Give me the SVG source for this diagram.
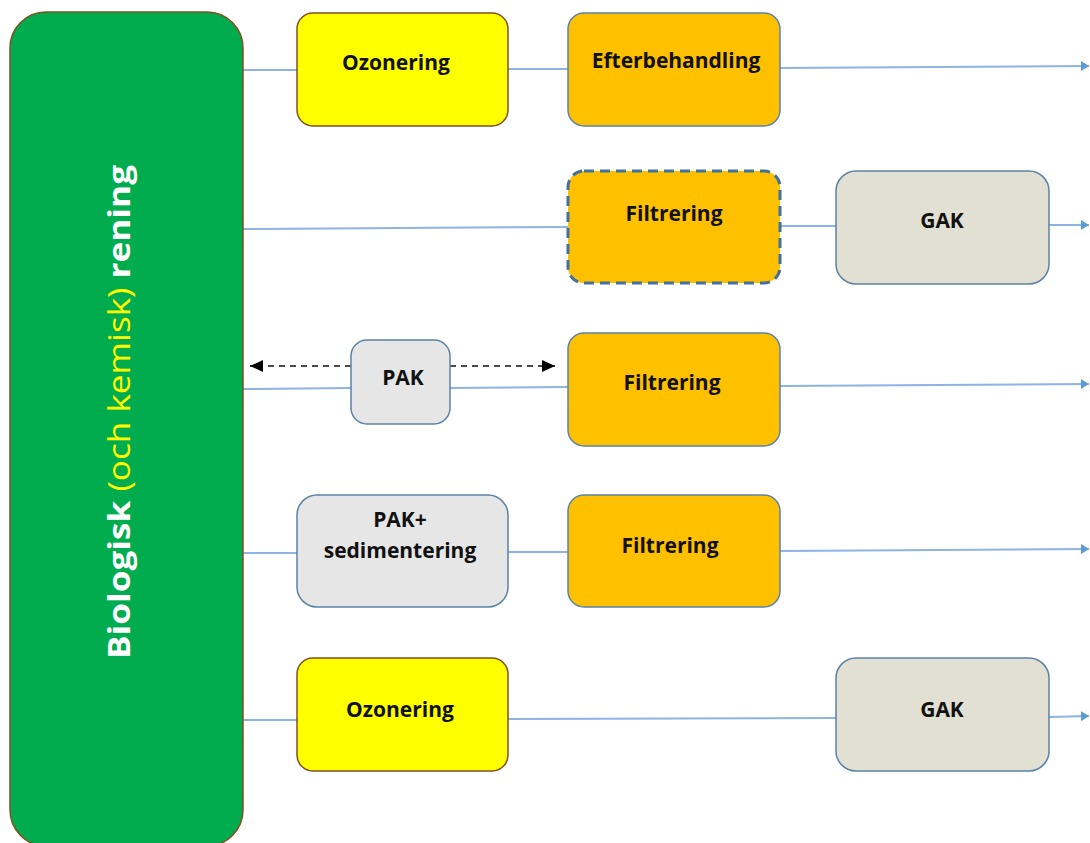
<svg xmlns="http://www.w3.org/2000/svg" width="1090" height="843" viewBox="0 0 1090 843">
<defs>
<style>
.lbl{font-family:"Open Sans",Lato,"Liberation Sans",sans-serif;font-weight:bold;font-size:21px;fill:#111;text-anchor:middle}
.ln{stroke:#8DB4E2;stroke-width:2;fill:none}
.orange{fill:#FFC000;stroke:#5A82A8;stroke-width:1.5}
.yellow{fill:#FFFF00;stroke:#7F5020;stroke-width:1.5}
.grey{fill:#E6E6E6;stroke:#5A82A8;stroke-width:1.5}
.beige{fill:#E2DFD3;stroke:#5A82A8;stroke-width:1.5}
.dash{stroke:#111;stroke-width:1.5;stroke-dasharray:6 5;fill:none}
</style>
<marker id="ah" markerWidth="8" markerHeight="10" refX="8" refY="5" orient="auto" markerUnits="userSpaceOnUse">
<path d="M0,0 L8,5 L0,10 Z" fill="#5B9BD5"/>
</marker>
<marker id="bh" markerWidth="13" markerHeight="12" refX="13" refY="6" orient="auto-start-reverse" markerUnits="userSpaceOnUse">
<path d="M0,0 L13,6 L0,12 Z" fill="#000"/>
</marker>
</defs>
<rect width="1090" height="843" fill="#fff"/>
<g id="connectors">
<line class="ln" x1="243" y1="70" x2="297" y2="70"/>
<line class="ln" x1="508" y1="69" x2="568" y2="69"/>
<line class="ln" x1="780" y1="68" x2="1089" y2="66" marker-end="url(#ah)"/>
<line class="ln" x1="243" y1="229" x2="568" y2="227"/>
<line class="ln" x1="780" y1="226" x2="836" y2="226"/>
<line class="ln" x1="1049" y1="225" x2="1089" y2="225" marker-end="url(#ah)"/>
<line class="ln" x1="243" y1="389" x2="351" y2="388"/>
<line class="ln" x1="450" y1="388" x2="568" y2="387"/>
<line class="ln" x1="780" y1="386" x2="1089" y2="384" marker-end="url(#ah)"/>
<line class="ln" x1="243" y1="553" x2="297" y2="553"/>
<line class="ln" x1="508" y1="552" x2="568" y2="552"/>
<line class="ln" x1="780" y1="551" x2="1089" y2="549" marker-end="url(#ah)"/>
<line class="ln" x1="243" y1="720" x2="297" y2="720"/>
<line class="ln" x1="508" y1="719" x2="836" y2="718"/>
<line class="ln" x1="1049" y1="717" x2="1089" y2="716" marker-end="url(#ah)"/>
<line class="dash" x1="351" y1="366" x2="250" y2="366" marker-end="url(#bh)"/>
<line class="dash" x1="450" y1="366" x2="555" y2="366" marker-end="url(#bh)"/>
</g>
<g id="bio">
<rect x="10" y="12" width="233" height="834" rx="36" fill="#00AC4E" stroke="#7F5020" stroke-width="1.5"/>
<text transform="translate(130,412) rotate(-90)" text-anchor="middle" font-family="'Open Sans',Lato,'Liberation Sans',sans-serif" font-size="31" fill="#fff" textLength="494" lengthAdjust="spacingAndGlyphs"><tspan font-weight="bold">Biologisk </tspan><tspan fill="#FFFF00">(och kemisk)</tspan><tspan font-weight="bold"> rening</tspan></text>
</g>
<g id="ozon1"><rect class="yellow" x="297" y="13" width="211" height="113" rx="16"/><text class="lbl" x="396" y="70">Ozonering</text></g>
<g id="efter"><rect class="orange" x="568" y="13" width="212" height="113" rx="16"/><text class="lbl" x="676" y="68">Efterbehandling</text></g>
<g id="filt1"><rect x="568" y="171" width="212" height="112" rx="16" fill="#FFC000" stroke="#41719C" stroke-width="3" stroke-dasharray="10 6"/><text class="lbl" x="674" y="221">Filtrering</text></g>
<g id="gak1"><rect class="beige" x="836" y="171" width="213" height="113" rx="20"/><text class="lbl" x="942" y="228">GAK</text></g>
<g id="pak"><rect class="grey" x="351" y="340" width="99" height="84" rx="16"/><text class="lbl" x="403" y="385">PAK</text></g>
<g id="filt2"><rect class="orange" x="568" y="333" width="212" height="113" rx="16"/><text class="lbl" x="672" y="390">Filtrering</text></g>
<g id="paksed"><rect class="grey" x="297" y="495" width="211" height="112" rx="20"/><text class="lbl" x="400" y="527">PAK+</text><text class="lbl" x="400" y="558">sedimentering</text></g>
<g id="filt3"><rect class="orange" x="568" y="495" width="212" height="112" rx="16"/><text class="lbl" x="670" y="553">Filtrering</text></g>
<g id="ozon2"><rect class="yellow" x="297" y="658" width="211" height="113" rx="16"/><text class="lbl" x="400" y="717">Ozonering</text></g>
<g id="gak2"><rect class="beige" x="836" y="658" width="213" height="113" rx="20"/><text class="lbl" x="942" y="717">GAK</text></g>
</svg>
